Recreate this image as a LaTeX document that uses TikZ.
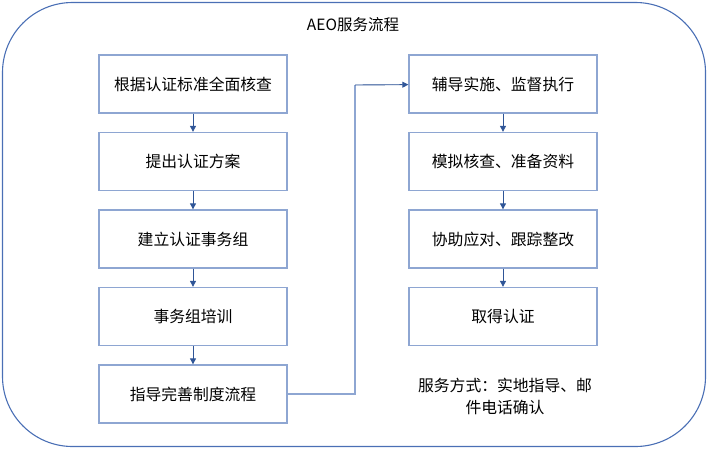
\documentclass[tikz,border=0pt]{standalone}
\usepackage{fontspec}
\setmainfont{Noto Sans CJK SC}
\usetikzlibrary{arrows.meta,positioning}

\definecolor{frameblue}{HTML}{4A6FB5}
\definecolor{boxblue}{HTML}{8EA6D2}
\definecolor{arrowblue}{HTML}{2F5597}

\begin{document}
\begin{tikzpicture}[
      x=1pt,
      y=-1pt,
      font=\fontsize{15.8}{22}\selectfont,
      box/.style={draw=boxblue, line width=1.3pt, align=center, minimum width=188pt, minimum height=58pt, inner sep=2pt},
      arrow/.style={-{Triangle[length=6pt,width=6pt]}, draw=arrowblue, fill=arrowblue, line width=0.9pt}
  ]
  \useasboundingbox (0,0) rectangle (708,450);

  % outer frame and title
  \node[draw=frameblue, line width=1.1pt, rounded corners=70pt, minimum width=703pt, minimum height=444pt, inner sep=0pt] (frame) at (354,224.5) {};
  \node[font=\fontsize{15.5}{19}\selectfont] (title) at (353,25) {AEO服务流程};

  % --- Left column: x=193 ---
  \node[box] (check)   at (193,84)  {根据认证标准全面核查};
  \node[box] (plan)    at (193,161.5) {提出认证方案};
  \node[box] (team)    at (193,239) {建立认证事务组};
  \node[box] (train)   at (193,316.5) {事务组培训};
  \node[box] (system)  at (193,394) {指导完善制度流程};

  % --- Right column: x=503 ---
  \node[box] (guide)   at (503,84)  {辅导实施、监督执行};
  \node[box] (mock)    at (503,161.5) {模拟核查、准备资料};
  \node[box] (fix)     at (503,239) {协助应对、跟踪整改};
  \node[box] (cert)    at (503,316.5) {取得认证};

  % note
  \node[align=center] (note) at (505,396) {服务方式：实地指导、邮\\件电话确认};

  % --- Arrows ---
  \draw[arrow] (check) -- (plan);
  \draw[arrow] (plan) -- (team);
  \draw[arrow] (team) -- (train);
  \draw[arrow] (train) -- (system);

  \coordinate (turn) at (355,394);
  \draw[boxblue, line width=1.3pt] (system) -- (turn) -- (355,85);
  \draw[arrow] (355,85) -- (guide);

  \draw[arrow] (guide) -- (mock);
  \draw[arrow] (mock) -- (fix);
  \draw[arrow] (fix) -- (cert);

\end{tikzpicture}
\end{document}
